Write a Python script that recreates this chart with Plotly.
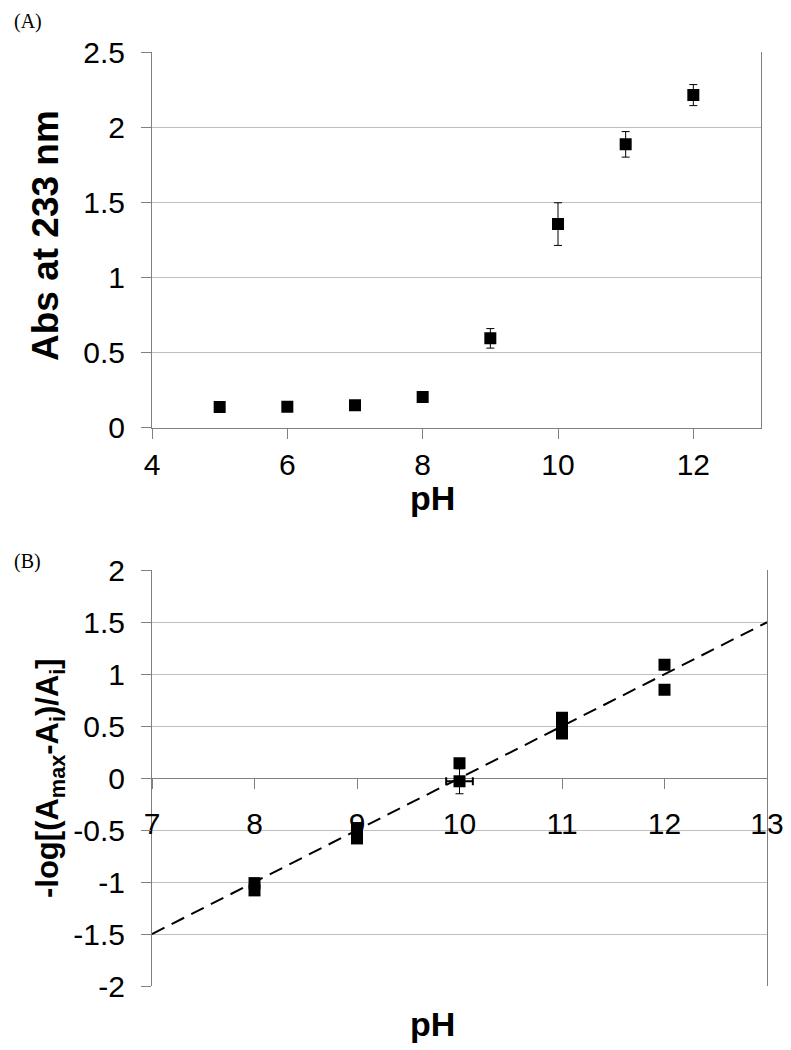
import plotly.graph_objects as go

# ---------------- data ----------------
# Panel A: absorbance at 233 nm vs pH
ph_a = [5, 6, 7, 8, 9, 10, 11, 12]
abs_a = [0.138, 0.14, 0.149, 0.204, 0.595, 1.356, 1.887, 2.215]
abs_err = [0.0, 0.0, 0.0, 0.0, 0.065, 0.142, 0.085, 0.07]

# Panel B: -log[(Amax-Ai)/Ai] vs pH (replicates)
ph_b = [8, 8, 9, 9, 10, 11, 11, 11, 12, 12]
logr_b = [-1.01, -1.08, -0.48, -0.58, 0.144, 0.58, 0.51, 0.43, 1.09, 0.85]
# point at pH 10 with both error bars
ph_b_err = [10]
logr_b_err = [-0.03]
xerr_b = [0.13]
yerr_b = [0.12]

# linear fit line
fit_x = [7, 13]
fit_y = [-1.5, 1.5]

ticks_a_y = [0, 0.5, 1, 1.5, 2, 2.5]
ticks_a_y_text = ["0", "0.5", "1", "1.5", "2", "2.5"]
ticks_a_x = [4, 6, 8, 10, 12]
ticks_b_y = [-2, -1.5, -1, -0.5, 0, 0.5, 1, 1.5, 2]
ticks_b_y_text = ["-2", "-1.5", "-1", "-0.5", "0", "0.5", "1", "1.5", "2"]
ticks_b_x = [7, 8, 9, 10, 11, 12, 13]

# ---------------- style ----------------
W, H = 791, 1050
OFF = 8  # page body margin compensation
TICKF = dict(family="Liberation Sans, Arial, sans-serif", size=30, color="black")
TITLEF = dict(family="Liberation Sans, Arial, sans-serif", size=37, color="black")
TITLEF_B = dict(family="Liberation Sans, Arial, sans-serif", size=31, color="black")
PHF = dict(family="Liberation Sans, Arial, sans-serif", size=34, color="black")
GRID = "#bfbfbf"
AXL = "#808080"

def px_x(p):
    return (p - OFF) / W

def px_y(p):
    return 1 - (p - OFF) / H

fig = go.Figure()

fig.add_trace(go.Scatter(
    x=ph_a, y=abs_a, mode="markers", xaxis="x", yaxis="y",
    marker=dict(symbol="square", size=12, color="black"),
    error_y=dict(type="data", array=abs_err, visible=True, color="black",
                 thickness=1, width=4),
    showlegend=False, hoverinfo="x+y"))

fig.add_trace(go.Scatter(
    x=fit_x, y=fit_y, mode="lines", xaxis="x2", yaxis="y2",
    line=dict(color="black", width=2, dash="14px,8px"),
    showlegend=False, hoverinfo="skip"))

fig.add_trace(go.Scatter(
    x=ph_b_err, y=logr_b_err, mode="markers", xaxis="x2", yaxis="y2",
    marker=dict(symbol="square", size=12, color="black"),
    error_x=dict(type="data", array=xerr_b, visible=True, color="black",
                 thickness=2, width=4),
    error_y=dict(type="data", array=yerr_b, visible=True, color="black",
                 thickness=1, width=4),
    showlegend=False, hoverinfo="x+y"))

fig.add_trace(go.Scatter(
    x=ph_b, y=logr_b, mode="markers", xaxis="x2", yaxis="y2",
    marker=dict(symbol="square", size=12, color="black"),
    showlegend=False, hoverinfo="x+y"))

common_y = dict(showgrid=True, gridcolor=GRID, gridwidth=1, showline=True,
                linecolor=AXL, linewidth=1, mirror=True, ticks="outside",
                ticklen=10, tickcolor=AXL, tickfont=TICKF, zeroline=False,
                layer="below traces", ticklabelstandoff=10, automargin=False)
common_x = dict(showgrid=False, showline=True, linecolor=AXL, linewidth=1,
                ticks="outside", ticklen=10, tickcolor=AXL, tickfont=TICKF,
                zeroline=False, layer="below traces", automargin=False)

fig.update_layout(
    width=W, height=H, autosize=False,
    margin=dict(l=0, r=0, t=0, b=0, pad=0, autoexpand=False),
    paper_bgcolor="white", plot_bgcolor="white",
    xaxis=dict(domain=[px_x(152), px_x(761)], range=[4, 13], anchor="y",
               tickvals=ticks_a_x, ticklabelstandoff=0, **common_x),
    yaxis=dict(domain=[px_y(427.7), px_y(52.3)], range=[0, 2.5], anchor="x",
               tickvals=ticks_a_y, ticktext=ticks_a_y_text, **common_y),
    xaxis2=dict(domain=[px_x(152), px_x(767)], range=[7, 13], anchor="free",
                position=px_y(778), tickvals=ticks_b_x,
                ticklabelstandoff=9, **common_x),
    yaxis2=dict(domain=[px_y(986), px_y(570.3)], range=[-2, 2], anchor="x2",
                tickvals=ticks_b_y, ticktext=ticks_b_y_text, **common_y),
    annotations=[
        dict(text="(A)", x=px_x(12), y=px_y(21), xref="paper", yref="paper",
             xanchor="left", yanchor="middle", showarrow=False,
             font=dict(family="Liberation Serif, Times New Roman, serif", size=20, color="black")),
        dict(text="(B)", x=px_x(12), y=px_y(561), xref="paper", yref="paper",
             xanchor="left", yanchor="middle", showarrow=False,
             font=dict(family="Liberation Serif, Times New Roman, serif", size=20, color="black")),
        dict(text="<b>Abs at 233 nm</b>", x=px_x(46), y=px_y(236), xref="paper",
             yref="paper", xanchor="center", yanchor="middle", textangle=-90,
             showarrow=False, font=TITLEF),
        dict(text="<b>pH</b>", x=px_x(432), y=px_y(498), xref="paper", yref="paper",
             xanchor="center", yanchor="middle", showarrow=False, font=PHF),
        dict(text="<b>-log[(A<sub>max</sub>-A<sub>i</sub>)/A<sub>i</sub>]</b>",
             x=px_x(50), y=px_y(778), xref="paper", yref="paper",
             xanchor="center", yanchor="middle", textangle=-90,
             showarrow=False, font=TITLEF_B),
        dict(text="<b>pH</b>", x=px_x(432), y=px_y(1024), xref="paper", yref="paper",
             xanchor="center", yanchor="middle", showarrow=False, font=PHF),
    ],
)

fig.write_html("out.html")
